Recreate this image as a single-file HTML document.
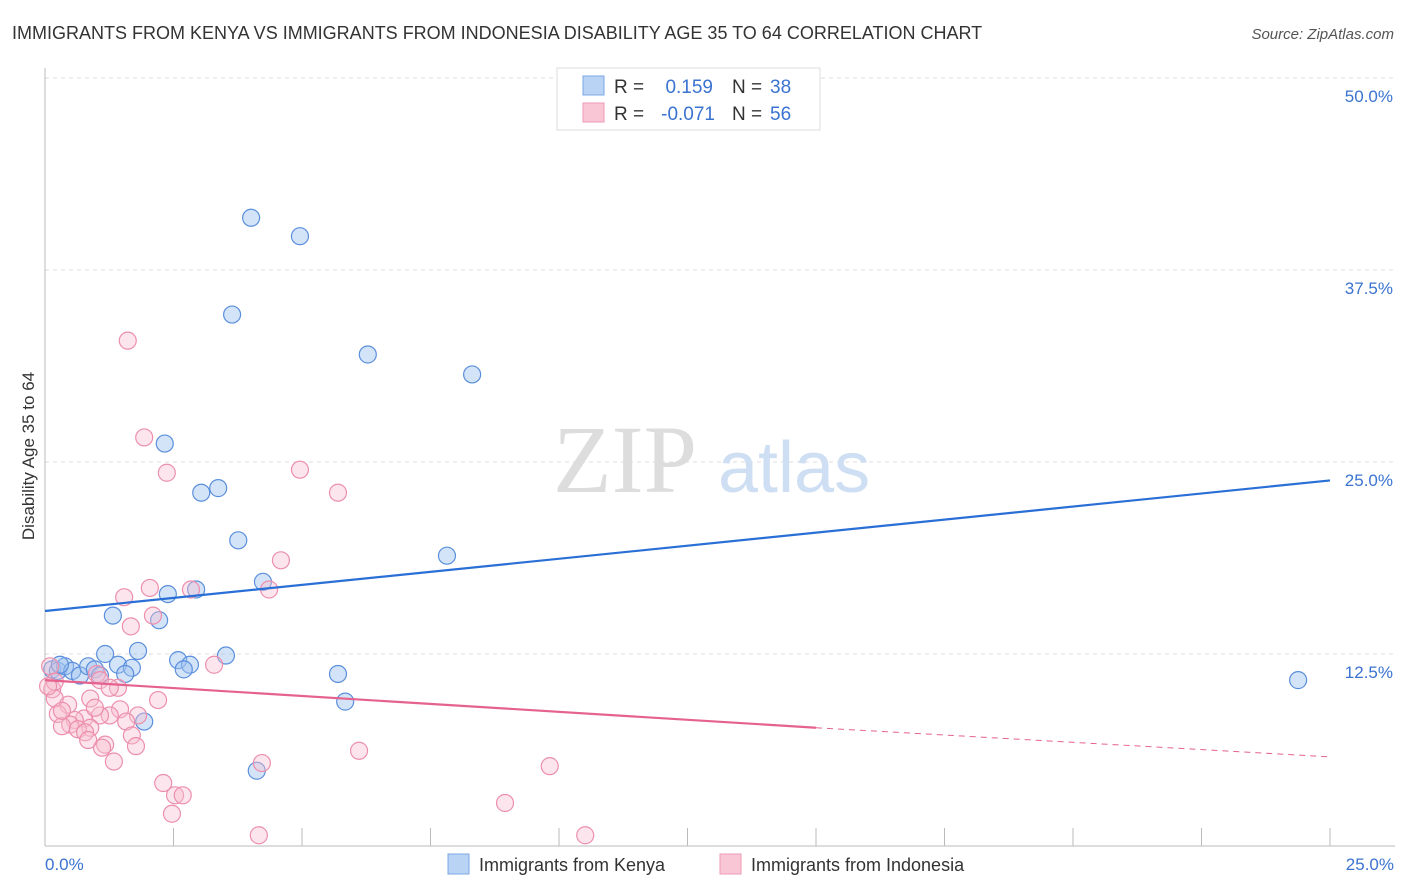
<!DOCTYPE html>
<html><head><meta charset="utf-8"><style>
body{margin:0;background:#fff;font-family:"Liberation Sans",sans-serif}
svg{display:block}
</style></head><body>
<svg id="chart" width="1406" height="892" viewBox="0 0 1406 892" xmlns="http://www.w3.org/2000/svg">
<text x="12" y="39" font-size="18" fill="#333">IMMIGRANTS FROM KENYA VS IMMIGRANTS FROM INDONESIA DISABILITY AGE 35 TO 64 CORRELATION CHART</text>
<text x="1394" y="39" font-size="15" font-style="italic" fill="#555" text-anchor="end">Source: ZipAtlas.com</text>
<g id="grid"></g>
<line x1="45" y1="68" x2="45" y2="846" stroke="#bbb"/>
<line x1="45" y1="846" x2="1395" y2="846" stroke="#bbb"/>
<text x="553" y="492" font-size="96" fill="#ddd" font-family="Liberation Serif,serif">ZIP</text>
<text x="718" y="492" font-size="72" fill="#cfdff3">atlas</text>
<text transform="translate(34,456) rotate(-90)" font-size="17" fill="#333" text-anchor="middle">Disability Age 35 to 64</text>
<text x="45" y="870" font-size="17" fill="#3a73d0">0.0%</text>
<text x="1394" y="870" font-size="17" fill="#3a73d0" text-anchor="end">25.0%</text>
<g id="ylabels"></g>
<g id="pts"></g>
<g id="lines"></g>
<g>
<rect x="557" y="68" width="263" height="62" fill="#fff" stroke="#ddd"/>
<rect x="583" y="76" width="21" height="19" fill="#b9d3f5" stroke="#7aa7e6"/>
<rect x="583" y="103" width="21" height="19" fill="#f9c6d5" stroke="#ee9ab5"/>
<text x="614" y="93" font-size="19" fill="#333">R = </text><text x="713" y="93" font-size="19" fill="#3a73d0" text-anchor="end">0.159</text>
<text x="732" y="93" font-size="19" fill="#333">N = </text><text x="770" y="93" font-size="19" fill="#3a73d0">38</text>
<text x="614" y="120" font-size="19" fill="#333">R = </text><text x="715" y="120" font-size="19" fill="#3a73d0" text-anchor="end">-0.071</text>
<text x="732" y="120" font-size="19" fill="#333">N = </text><text x="770" y="120" font-size="19" fill="#3a73d0">56</text>
</g>
<g><rect x="448" y="854" width="21" height="20" fill="#b9d3f5" stroke="#7aa7e6"/><text x="479" y="871" font-size="18" fill="#333">Immigrants from Kenya</text></g>
<g><rect x="720" y="854" width="21" height="20" fill="#f9c6d5" stroke="#ee9ab5"/><text x="751" y="871" font-size="18" fill="#333">Immigrants from Indonesia</text></g>
</svg>
<script>
const yTicks=[12.5,25,37.5,50];
const xTickCount=10;
const kenyaX=[4.01,4.96,3.64,6.28,8.31,2.33,3.04,3.37,3.76,7.82,4.24,2.39,2.94,1.32,2.22,1.81,1.17,3.52,2.59,2.82,2.70,1.42,1.69,5.70,5.84,1.93,4.12,24.38,0.14,0.25,0.39,0.53,0.68,0.84,0.97,1.07,1.56,0.29];
const kenyaY=[40.9,39.7,34.6,32.0,30.7,26.2,23.0,23.3,19.9,18.9,17.2,16.4,16.7,15.0,14.7,12.7,12.5,12.4,12.1,11.8,11.5,11.8,11.6,11.2,9.4,8.1,4.9,10.8,11.5,11.4,11.7,11.4,11.1,11.7,11.5,11.1,11.2,11.8];
const indoX=[1.61,1.93,2.37,4.96,5.70,4.59,2.04,1.54,2.84,4.36,2.10,1.67,3.29,1.01,1.07,1.42,1.26,0.14,0.19,0.88,2.20,0.45,1.46,0.25,1.26,1.07,0.76,0.58,0.49,0.33,1.81,1.58,0.88,0.64,0.78,1.69,1.17,1.11,0.84,1.77,1.34,4.22,6.11,9.82,2.30,2.53,2.68,2.47,8.95,4.16,10.51,0.10,0.19,0.06,0.33,0.97];
const indoY=[32.9,26.6,24.3,24.5,23.0,18.6,16.8,16.2,16.7,16.7,15.0,14.3,11.8,11.2,10.8,10.3,10.3,10.2,9.6,9.6,9.5,9.2,8.9,8.6,8.5,8.5,8.3,8.2,7.9,7.8,8.5,8.1,7.7,7.6,7.4,7.2,6.6,6.4,6.9,6.5,5.5,5.4,6.2,5.2,4.1,3.3,3.3,2.1,2.8,0.7,0.7,11.7,10.7,10.4,8.8,9.0];
const kenyaLine=[15.3,23.8];
const indoLine=[10.8,7.7,5.8];
const NS='http://www.w3.org/2000/svg';
const X0=45,X1=1330,Y0=846,Y50=78;
const sx=v=>X0+(X1-X0)*v/25;
const sy=v=>Y0-(Y0-Y50)*v/50;
function mk(tag,at,parent){const e=document.createElementNS(NS,tag);for(const k in at)e.setAttribute(k,at[k]);parent.appendChild(e);return e;}
const grid=document.getElementById('grid'),yl=document.getElementById('ylabels'),pts=document.getElementById('pts'),lines=document.getElementById('lines');
yTicks.forEach(t=>{
  const l=mk('line',{x1:X0,x2:1395,y1:sy(t),y2:sy(t),stroke:'#ddd','stroke-dasharray':'4,4'},grid);
  
  
  const tx=mk('text',{x:1393,y:sy(t)+24,'font-size':17,fill:'#3a73d0','text-anchor':'end'},yl);
  tx.textContent=t.toFixed(1)+'%';
  
  
});
for(let i=1;i<=xTickCount;i++){
  const x=sx(25*i/xTickCount);
  const l=mk('line',{x1:x,x2:x,y1:828,y2:846,stroke:'#bbb'},grid);
  
  
}
kenyaX.forEach((v,i)=>{
  const c=mk('circle',{cx:sx(v),cy:sy(kenyaY[i]),r:8.5,fill:'rgba(160,196,240,0.45)',stroke:'#5b8fdc','stroke-width':1.2},pts);
  
  
});
indoX.forEach((v,i)=>{
  const c=mk('circle',{cx:sx(v),cy:sy(indoY[i]),r:8.5,fill:'rgba(248,190,208,0.4)',stroke:'#ec8fae','stroke-width':1.2},pts);
  
  
});
const kl=mk('line',{x1:sx(0),y1:sy(kenyaLine[0]),x2:sx(25),y2:sy(kenyaLine[1]),stroke:'#2a6fd6','stroke-width':2.2},lines);


const il=mk('line',{x1:sx(0),y1:sy(indoLine[0]),x2:sx(15),y2:sy(indoLine[1]),stroke:'#e5628e','stroke-width':2.2},lines);


const id=mk('line',{x1:sx(15),y1:sy(indoLine[1]),x2:sx(25),y2:sy(indoLine[2]),stroke:'#e5628e','stroke-width':1,'stroke-dasharray':'6,5'},lines);


</script>
</body></html>
